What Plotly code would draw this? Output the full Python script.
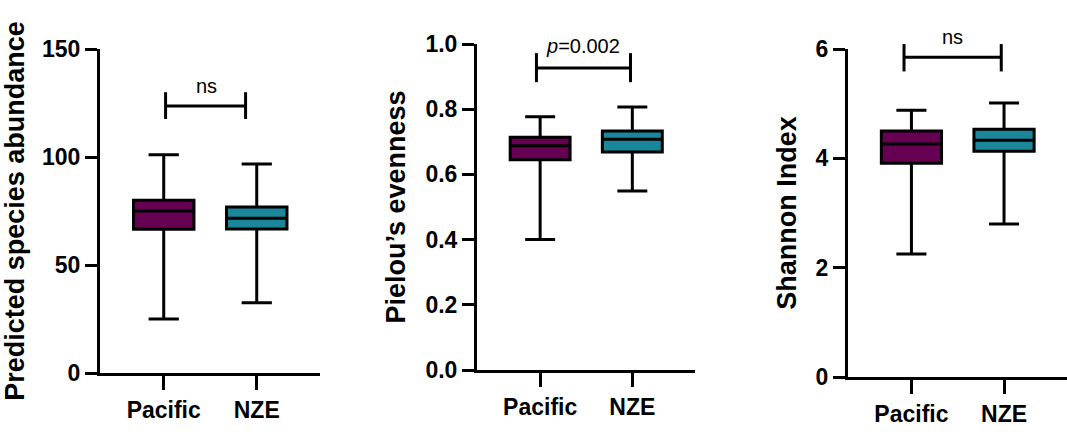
import plotly.graph_objects as go

# ---------------- data ----------------
groups = ["Pacific", "NZE"]
colors = ["#650052", "#1b879b"]

abund_low = [25.0, 32.5]
abund_q1 = [66.5, 66.7]
abund_med = [75.0, 71.7]
abund_q3 = [80.0, 76.8]
abund_high = [101.0, 96.8]

even_low = [0.400, 0.549]
even_q1 = [0.645, 0.669]
even_med = [0.688, 0.708]
even_q3 = [0.714, 0.733]
even_high = [0.777, 0.807]

shan_low = [2.25, 2.80]
shan_q1 = [3.91, 4.13]
shan_med = [4.26, 4.33]
shan_q3 = [4.50, 4.53]
shan_high = [4.88, 5.01]

titles = ["Predicted species abundance", "Pielou\u2019s evenness", "Shannon Index"]
y_ranges = [[0, 150], [0, 1.0], [0, 6]]
y_ticks = [[0, 50, 100, 150], [0, 0.2, 0.4, 0.6, 0.8, 1.0], [0, 2, 4, 6]]
y_formats = ["d", ".1f", "d"]

# significance brackets: x ends (category units), bar level, end-tick low/high
bracket_x = [[0.02, 0.88], [-0.04, 0.98], [-0.08, 0.97]]
bracket_bar = [123.6, 0.926, 5.85]
bracket_lo = [117.6, 0.883, 5.59]
bracket_hi = [130.0, 0.972, 6.09]
sig_text = ["ns", "<i>p</i>=0.002", "ns"]
sig_x = [0.46, 0.46, 0.44]
sig_y = [132.9, 0.994, 6.22]

# ---------------- layout geometry ----------------
W, H = 1067, 432
x_dom_px = [(100, 320), (477, 695), (848, 1067)]
y_dom_px = [(373, 49), (370, 44), (377, 49)]  # (bottom, top) in pixels from top
x_range = [-0.685, 1.68]

FONT = "Liberation Sans, Arial, sans-serif"

panels = [
    (abund_low, abund_q1, abund_med, abund_q3, abund_high),
    (even_low, even_q1, even_med, even_q3, even_high),
    (shan_low, shan_q1, shan_med, shan_q3, shan_high),
]

fig = go.Figure()
layout = dict(
    width=W, height=H,
    margin=dict(l=0, r=0, t=0, b=0),
    paper_bgcolor="white", plot_bgcolor="rgba(0,0,0,0)",
    showlegend=False, boxmode="overlay",
    font=dict(family=FONT, color="black"),
)
annotations = []

for i, (lo, q1, med, q3, hi) in enumerate(panels):
    n = i + 1
    xb = i + 4
    xs = "" if n == 1 else str(n)
    xd = [x_dom_px[i][0] / W, x_dom_px[i][1] / W]
    yb = (H - y_dom_px[i][0]) / H
    yt = (H - y_dom_px[i][1]) / H

    for g in range(2):
        fig.add_trace(go.Box(
            x=[groups[g]], q1=[q1[g]], median=[med[g]], q3=[q3[g]],
            lowerfence=[lo[g]], upperfence=[hi[g]],
            orientation="v",
            width=0.65, whiskerwidth=0.5,
            fillcolor=colors[g],
            line=dict(color="black", width=3),
            boxpoints=False, hoverinfo="skip",
            xaxis="x" + xs, yaxis="y" + xs,
        ))

    layout["xaxis" + xs] = dict(
        domain=xd, anchor="y" + xs, type="category",
        categoryorder="array", categoryarray=groups,
        range=x_range, showline=True, linewidth=3, linecolor="black",
        ticks="outside", ticklen=14, tickwidth=3, tickcolor="black",
        tickfont=dict(family=FONT, size=23, weight="bold", color="black"),
        showgrid=False, zeroline=False, fixedrange=True, automargin=False,
    )
    layout["yaxis" + xs] = dict(
        domain=[yb, yt], anchor="x" + xs, range=y_ranges[i],
        tickvals=y_ticks[i], tickformat=y_formats[i],
        showline=True, linewidth=3, linecolor="black",
        ticks="outside", ticklen=12, tickwidth=3, tickcolor="black",
        tickfont=dict(family=FONT, size=23, weight="bold", color="black"),
        title=dict(text=titles[i], standoff=12,
                   font=dict(family=FONT, size=27, weight="bold", color="black")),
        showgrid=False, zeroline=False, fixedrange=True, automargin=False,
    )

    # taller invisible overlay subplot with identical scale, for brackets above the axis top
    ymax = y_ranges[i][1]
    tall_top = ymax * (1 - yb) / (yt - yb)
    layout["xaxis%d" % xb] = dict(domain=xd, anchor="y%d" % xb, range=x_range,
                                  visible=False, fixedrange=True)
    layout["yaxis%d" % xb] = dict(domain=[yb, 1.0], anchor="x%d" % xb,
                                  range=[0, tall_top], visible=False, fixedrange=True)

    bx0, bx1 = bracket_x[i]
    fig.add_trace(go.Scatter(
        x=[bx0, bx0, None, bx0, bx1, None, bx1, bx1],
        y=[bracket_lo[i], bracket_hi[i], None, bracket_bar[i], bracket_bar[i], None,
           bracket_lo[i], bracket_hi[i]],
        mode="lines", line=dict(color="black", width=3),
        hoverinfo="skip", xaxis="x%d" % xb, yaxis="y%d" % xb,
    ))
    annotations.append(dict(
        x=sig_x[i], y=sig_y[i], xref="x%d" % xb, yref="y%d" % xb,
        text=sig_text[i], showarrow=False, xanchor="center", yanchor="middle",
        font=dict(family=FONT, size=20, color="black"),
    ))

layout["annotations"] = annotations
fig.update_layout(**layout)
fig.write_html("out.html")
